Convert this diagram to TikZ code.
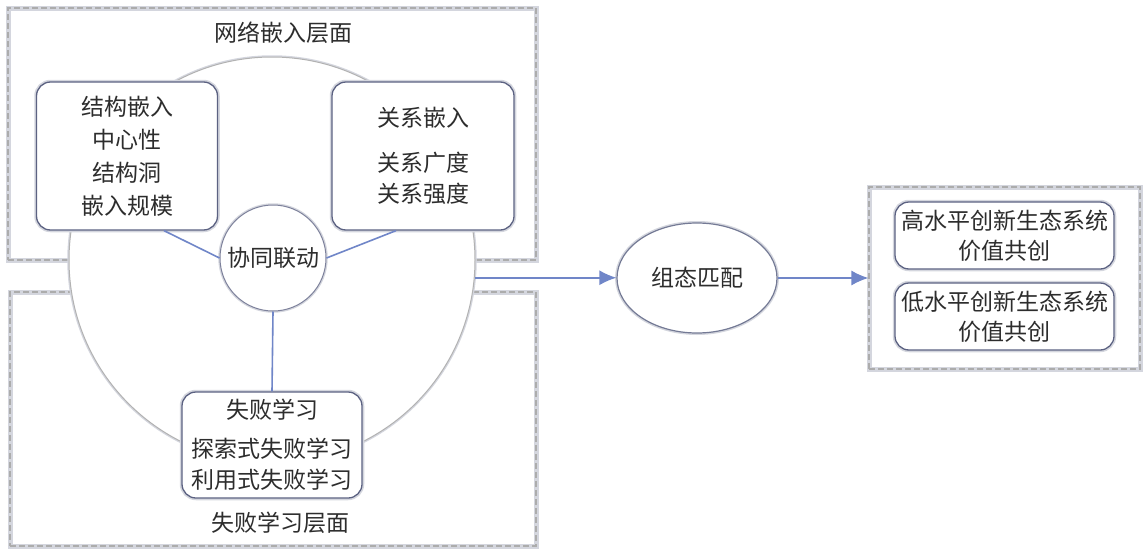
\documentclass[tikz,border=0pt]{standalone}
\usepackage{fontspec}
\newfontfamily\cjk{Noto Sans CJK SC}
\usetikzlibrary{shapes.geometric,arrows.meta,calc}
\definecolor{linkblue}{RGB}{112,134,200}
\definecolor{boxline}{RGB}{92,98,130}
\definecolor{txt}{RGB}{45,45,45}
\definecolor{haze}{RGB}{212,214,222}
\begin{document}
\begin{tikzpicture}[x=1pt,y=-1pt,
  every node/.style={font=\cjk\fontsize{23}{31}\selectfont, text=txt, inner sep=0pt},
  layer/.style={draw=gray!65, dash pattern=on 6pt off 3pt, line width=1.1pt,
    preaction={draw=haze, line width=5pt, solid}, rectangle},
  rbox/.style={rectangle, rounded corners=14pt, draw=boxline, line width=1.3pt, fill=white,
    preaction={draw=haze, line width=4.5pt}, align=center},
  ring/.style={circle, draw=gray!60, line width=1pt, fill=white,
    preaction={draw=haze, line width=3.5pt}},
  link/.style={draw=linkblue, line width=1.6pt},
  arr/.style={link, -{Latex[length=17pt,width=15pt]}}
]
\useasboundingbox (0,0) rectangle (1146,549);
% layers
\node[layer, minimum width=528pt, minimum height=252pt] (top) at (272,134) {};
\node[layer, minimum width=526pt, minimum height=254pt] (bot) at (273,419) {};
% big circle
\node[ring, minimum size=406pt] (B) at (272,260) {};
\node (tl) at (283,33) {网络嵌入层面};
\node (bl) at (280,523) {失败学习层面};
% inner boxes
\node[rbox, minimum width=181pt, minimum height=148pt, font=\cjk\fontsize{23}{33}\selectfont] (S) at (127,156)
  {结构嵌入\\中心性\\结构洞\\嵌入规模};
\node[rbox, minimum width=182pt, minimum height=148pt] (Rel) at (423,156)
  {关系嵌入\\[14pt]关系广度\\关系强度};
\node[rbox, minimum width=180pt, minimum height=106pt] (F) at (272,445)
  {失败学习\\[8pt]探索式失败学习\\利用式失败学习};
\node[ring, draw=boxline!80, minimum size=106pt] (C) at (273,258) {协同联动};
% connectors
\draw[link] ($(S.south)+(37,0)$) -- (C.west);
\draw[link] ($(Rel.south)+(-27,0)$) -- (C.east);
\draw[link] (C.south) -- (F.north);
% matching
\node[ellipse, draw=boxline!85, line width=1.2pt, fill=white, preaction={draw=haze, line width=4pt},
  minimum width=160pt, minimum height=110pt] (M) at (697,278) {组态匹配};
\node[layer, minimum width=271pt, minimum height=182pt] (Out) at (1004.5,278) {};
\node[rbox, minimum width=219pt, minimum height=67pt, font=\cjk\fontsize{23}{30}\selectfont] (H) at (1004.5,235.5)
  {高水平创新生态系统\\价值共创};
\node[rbox, minimum width=219pt, minimum height=67pt, font=\cjk\fontsize{23}{30}\selectfont] (Lo) at (1004.5,316.5)
  {低水平创新生态系统\\价值共创};
\draw[arr] (B.-5) -- (B.-5 -| M.west);
\draw[arr] (M.east) -- (Out.west);
\end{tikzpicture}
\end{document}
